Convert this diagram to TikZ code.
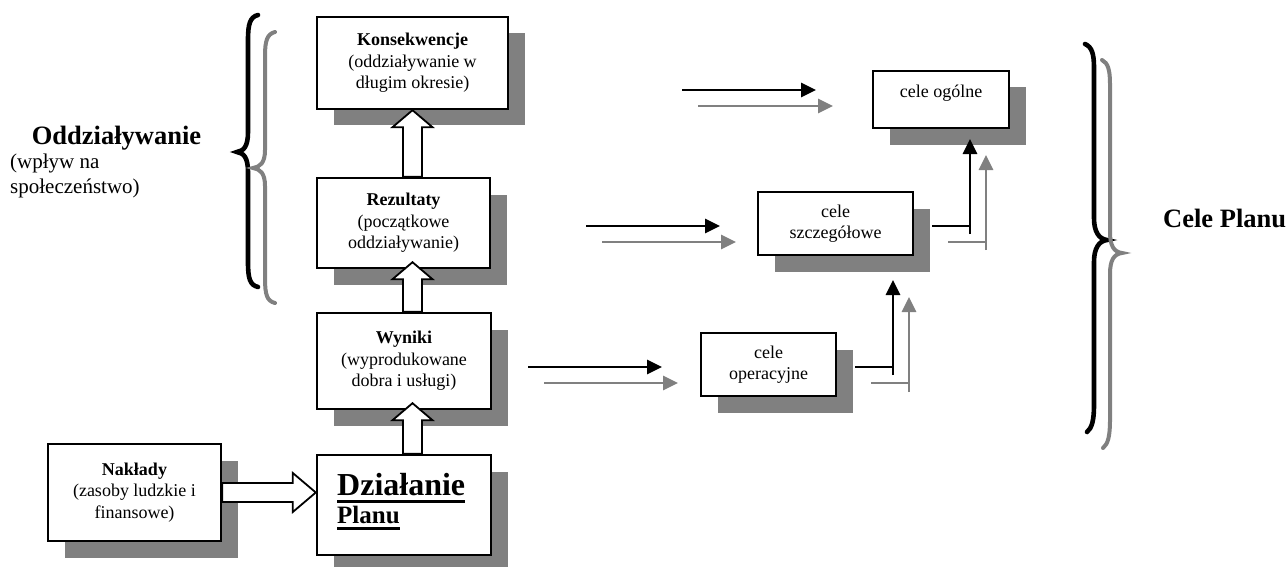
\documentclass[tikz,border=0pt]{standalone}
\usepackage{fontspec}
\setmainfont{Liberation Serif}
\usetikzlibrary{arrows.meta,shadows,calc}
\definecolor{shgray}{HTML}{808080}
\newcommand\myBody{\fontsize{18}{21.5}\selectfont}
\begin{document}
\begin{tikzpicture}[x=1pt,y=-1pt,
  box/.style={draw, line width=2.4pt, fill=white, inner sep=0pt, align=center, font=\myBody,
    drop shadow={shadow xshift=16.5pt, shadow yshift=-16.5pt, opacity=1, fill=shgray}},
  blockarr/.style={draw, fill=white, line width=1.8pt, line join=miter},
  blackarr/.style={line width=2.8pt, draw=black, -{Triangle[length=15pt,width=14pt]}},
  grayarr/.style={line width=2.8pt, draw=shgray, -{Triangle[length=15pt,width=14pt]}},
  blackln/.style={line width=2.8pt, draw=black},
  grayln/.style={line width=2.8pt, draw=shgray},
  bigbold/.style={font=\fontsize{26.5}{30}\selectfont\bfseries, inner sep=0pt}]
\useasboundingbox (0,0) rectangle (1287,567);

% braces
\draw[line width=4.6pt, line cap=round] (258,15) .. controls (250,17) and (248,24) .. (248,40) -- (248,132) .. controls (248,146) and (244,151) .. (237,152) .. controls (244,153) and (248,158) .. (248,172) -- (248,262) .. controls (248,279) and (250,285) .. (258,287);
\draw[line width=4pt, line cap=round, draw=shgray] (275,32) .. controls (267,34) and (265,41) .. (265,56) -- (265,150) .. controls (265,163) and (260,167) .. (253,168) .. controls (260,169) and (265,173) .. (265,186) -- (265,278) .. controls (265,295) and (267,301) .. (275,303);
\draw[line width=4.6pt, line cap=round] (1085,44) .. controls (1092,47) and (1094,54) .. (1094,68) -- (1094,218) .. controls (1094,232) and (1099,239) .. (1107,240) .. controls (1099,241) and (1094,248) .. (1094,262) -- (1094,405) .. controls (1094,420) and (1092,428) .. (1087,432);
\draw[line width=4pt, line cap=round, draw=shgray] (1102,60) .. controls (1108,63) and (1110,70) .. (1110,84) -- (1110,232) .. controls (1110,246) and (1114,252) .. (1122,253) .. controls (1114,254) and (1110,260) .. (1110,274) -- (1110,420) .. controls (1110,436) and (1108,444) .. (1103,448);

% side labels
\node[bigbold, anchor=base] (odd) at (116.5,144) {Oddziaływanie};
\node[font=\fontsize{21}{25}\selectfont, anchor=west, align=left, inner sep=0pt] (wplyw) at (10,176) {(wpływ na\\społeczeństwo)};
\node[bigbold, anchor=base west] (celeplanu) at (1163,227) {Cele Planu};

% left column boxes
\node[box, minimum width=191pt, minimum height=92pt] (kons) at (412.5,63) {\textbf{Konsekwencje}\\(oddziaływanie w\\długim okresie)};
\node[box, minimum width=173pt, minimum height=90pt] (rez) at (403.5,223) {\textbf{Rezultaty}\\(początkowe\\oddziaływanie)};
\node[box, minimum width=174pt, minimum height=96pt] (wyn) at (404,361) {\textbf{Wyniki}\\(wyprodukowane\\dobra i usługi)};
\node[box, minimum width=174pt, minimum height=100pt] (dz) at (404,505) {};
\node[box, minimum width=173pt, minimum height=97pt] (nak) at (134.5,492.5) {\textbf{Nakłady}\\(zasoby ludzkie i\\finansowe)};

\node[anchor=base west, inner sep=0pt, font=\fontsize{32}{36}\selectfont\bfseries] (dzA) at (337,495) {Działanie};
\node[anchor=base west, inner sep=0pt, font=\fontsize{25}{30}\selectfont\bfseries] (dzB) at (337,523.5) {Planu};
\draw[line width=3pt] ([yshift=-6pt]dzA.base west) -- ([yshift=-6pt]dzA.base east);
\draw[line width=3pt] ([yshift=-5pt]dzB.base west) -- ([yshift=-5pt]dzB.base east);

% right boxes
\node[box, minimum width=136pt, minimum height=57pt, text depth=17pt] (og) at (941,99.5) {cele ogólne};
\node[box, minimum width=155pt, minimum height=63pt] (szcz) at (835.5,223.5) {cele\\szczegółowe};
\node[box, minimum width=135pt, minimum height=63pt] (op) at (768.5,364.5) {cele\\operacyjne};

% block arrows (vertical)
\coordinate (t1) at (kons.south);
\coordinate (b1) at (kons.south |- rez.north);
\coordinate (t2) at ($(kons.south |- rez.south)+(0,-7)$);
\coordinate (b2) at (kons.south |- wyn.north);
\coordinate (t3) at ($(kons.south |- wyn.south)+(0,-7)$);
\coordinate (b3) at (kons.south |- dz.north);
\foreach \t/\b in {t1/b1,t2/b2,t3/b3}{
  \draw[blockarr] (\t) -- ($(\t)+(20,17)$) -- ($(\t)+(9.5,17)$) -- ($(\b)+(9.5,0)$) -- ($(\b)+(-9.5,0)$) -- ($(\t)+(-9.5,17)$) -- ($(\t)+(-20,17)$) -- cycle;
}
% block arrow (horizontal)
\coordinate (ht) at (dz.west |- nak.east);
\draw[blockarr] (ht) -- ($(ht)+(-23,-19.5)$) -- ($(ht)+(-23,-9.5)$) -- ($(nak.east)+(0,-9.5)$) -- ($(nak.east)+(0,9.5)$) -- ($(ht)+(-23,9.5)$) -- ($(ht)+(-23,19.5)$) -- cycle;

% free horizontal arrows
\coordinate (a1s) at (682,90);  \coordinate (a1e) at (816,90);
\coordinate (g1s) at (698,106); \coordinate (g1e) at (833,106);
\coordinate (a2s) at (586,226); \coordinate (a2e) at (720,226);
\coordinate (g2s) at (602,242); \coordinate (g2e) at (736,242);
\coordinate (a3s) at (528,367); \coordinate (a3e) at (662,367);
\coordinate (g3s) at (544,383); \coordinate (g3e) at (678,383);
\draw[blackarr] (a1s) -- (a1e);
\draw[grayarr] (g1s) -- (g1e);
\draw[blackarr] (a2s) -- (a2e);
\draw[grayarr] (g2s) -- (g2e);
\draw[blackarr] (a3s) -- (a3e);
\draw[grayarr] (g3s) -- (g3e);

% elbow connectors szczegolowe -> ogolne
\coordinate (e1a) at (932,226); \coordinate (e1b) at (970,226);
\coordinate (e1c) at (970,234); \coordinate (e1d) at (970,139);
\draw[blackln] (e1a) -- (e1b);
\draw[blackarr] (e1c) -- (e1d);
\coordinate (f1a) at (948,242); \coordinate (f1b) at (986,242);
\coordinate (f1c) at (986,250); \coordinate (f1d) at (986,155);
\draw[grayln] (f1a) -- (f1b);
\draw[grayarr] (f1c) -- (f1d);

% elbow connectors operacyjne -> szczegolowe
\coordinate (e2a) at (855,367); \coordinate (e2b) at (893,367);
\coordinate (e2c) at (893,375); \coordinate (e2d) at (893,280);
\draw[blackln] (e2a) -- (e2b);
\draw[blackarr] (e2c) -- (e2d);
\coordinate (f2a) at (871,383); \coordinate (f2b) at (909,383);
\coordinate (f2c) at (909,392); \coordinate (f2d) at (909,297);
\draw[grayln] (f2a) -- (f2b);
\draw[grayarr] (f2c) -- (f2d);
\end{tikzpicture}
\end{document}
